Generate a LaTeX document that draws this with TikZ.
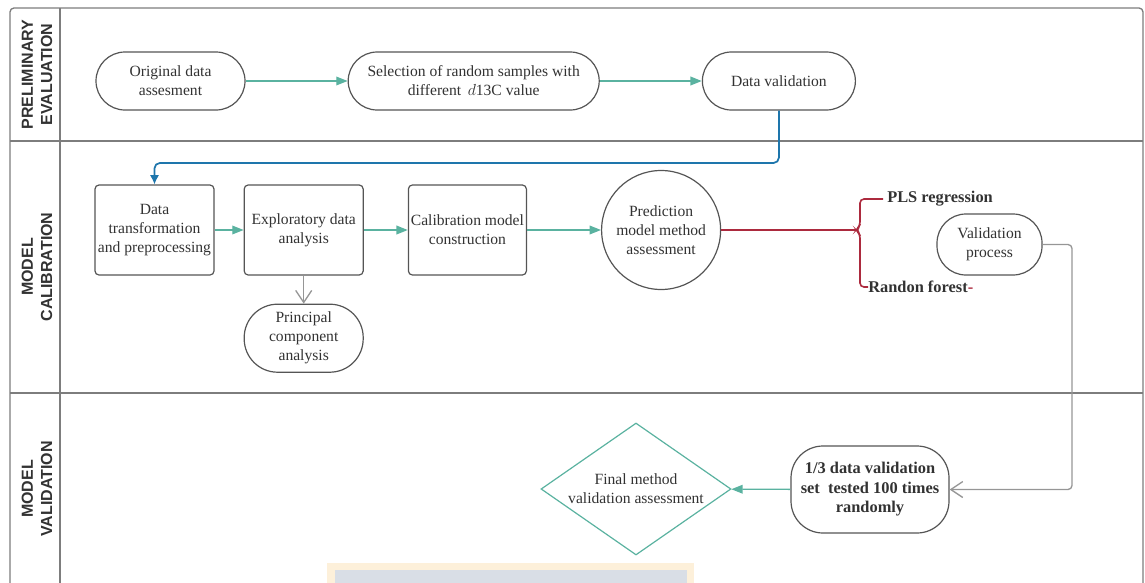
\documentclass[tikz,border=0pt]{standalone}
\usepackage{fontspec}
\setmainfont{Liberation Serif}
\newfontfamily\lanefont{Liberation Sans}
\usepackage{xcolor}
\usetikzlibrary{shapes.geometric,arrows.meta,positioning}

\definecolor{textgrey}{RGB}{50,50,50}
\definecolor{outline}{RGB}{85,85,85}
\definecolor{framegrey}{RGB}{125,125,125}
\definecolor{tealarrow}{RGB}{90,178,160}
\definecolor{bluearrow}{RGB}{30,118,172}
\definecolor{bracered}{RGB}{172,42,62}
\definecolor{linkgrey}{RGB}{150,150,150}
\definecolor{wmcream}{RGB}{253,240,218}
\definecolor{wmgrey}{RGB}{217,222,230}

\begin{document}
\begin{tikzpicture}[x=0.75pt, y=-0.75pt,
    txt/.style={font=\fontsize{11.7}{14.25}\selectfont, text=textgrey, align=center, inner sep=1pt},
    boldtxt/.style={font=\fontsize{12.3}{14.6}\selectfont\bfseries, text=textgrey, align=center, inner sep=1pt},
    stadium/.style={txt, rectangle, draw=outline, line width=0.9pt, rounded corners=21.75pt, minimum height=43.5pt},
    stepbox/.style={txt, rectangle, draw=outline, line width=0.9pt, rounded corners=3pt, minimum width=89.25pt, minimum height=67.5pt},
    lanelabel/.style={font=\lanefont\fontsize{12}{14.5}\selectfont\bfseries, text=textgrey, align=center, rotate=90},
    flow/.style={draw=tealarrow, line width=1pt, -{Triangle[length=8.5pt,width=6.5pt]}},
    openflow/.style={draw=linkgrey, line width=1pt, -{Straight Barb[length=9pt,width=12pt]}},
    laneline/.style={draw=framegrey, line width=1pt}]

    \useasboundingbox (0,0) rectangle (1145,582);

    % swimlane frame
    \draw[laneline, rounded corners=3pt] (10,583) |- (1143,8) -- (1143,583);
    \draw[laneline] (60,8) -- (60,583);
    \draw[laneline] (10,141) -- (1143,141);
    \draw[laneline] (10,393) -- (1143,393);
    \node[lanelabel] (lanepre) at (37,74.5) {PRELIMINARY\\EVALUATION};
    \node[lanelabel] (lanecal) at (37,267) {MODEL\\CALIBRATION};
    \node[lanelabel] (laneval) at (37,489) {MODEL\\VALIDATION};

    % preliminary evaluation
    \node[stadium, minimum width=111.75pt] (orig) at (170.5,81) {Original data\\assesment};
    \node[stadium, minimum width=188.25pt, right=76.5pt of orig] (select) {Selection of random samples with\\different \,$d$13C value};
    \node[stadium, minimum width=114.75pt, right=76.5pt of select] (dataval) {Data validation};

    \draw[flow] (orig) -- (select);
    \draw[flow] (select) -- (dataval);

    % model calibration
    \node[stepbox] (transform) at (154.5,230) {Data\\transformation\\and preprocessing};
    \node[stepbox, right=21.75pt of transform] (explore) {Exploratory data\\analysis};
    \node[stepbox, minimum width=88.5pt, right=33pt of explore] (calib) {Calibration model\\construction};
    \node[txt, circle, draw=outline, line width=0.9pt, minimum size=89.25pt, right=55.5pt of calib] (predict) {Prediction\\model method\\assessment};
    \node[stadium, minimum width=89.25pt, minimum height=51pt, rounded corners=25pt, below=21pt of explore] (pca) {Principal\\component\\analysis};
    \node[boldtxt, anchor=west, inner sep=3pt] (pls) at (883,199) {PLS regression};
    \node[boldtxt, anchor=west, inner sep=0pt] (forest) at (868,287) {Randon forest{\color{bracered}-}};
    \node[stadium, minimum width=78.75pt, minimum height=45.75pt] (valproc) at (989.5,244.5) {Validation\\process};
    \coordinate (bluebend) at (0,163);
    \coordinate (tip) at (856,230);

    \draw[draw=bluearrow, line width=1.3pt, rounded corners=4pt, -{Latex[length=7pt,width=7pt]}] (dataval.south) |- (transform.north |- bluebend) -- (transform.north);
    \draw[flow] (transform) -- (explore);
    \draw[flow] (explore) -- (calib);
    \draw[flow] (calib) -- (predict);
    \draw[openflow] (explore) -- (pca);
    \draw[draw=bracered, line width=1.2pt] (predict.east) -- (tip);
    \draw[draw=bracered, line width=1.2pt, rounded corners=3pt] (pls.west) -| (860,226) -- (tip) -- (860,234) |- (forest.west);

    % model validation
    \node[boldtxt, rectangle, draw=outline, line width=0.9pt, rounded corners=24pt, minimum width=118.5pt, minimum height=65.25pt] (tested) at (870,489.5) {1/3 data validation\\set\ \ tested 100 times\\randomly};
    \node[txt, diamond, draw=tealarrow, line width=0.9pt, aspect=1.44, inner sep=0pt, minimum width=142.5pt, minimum height=99pt] (final) at (636,489) {Final method\\validation assessment};
    \coordinate (greybend) at (1072,0);

    \draw[openflow, rounded corners=3pt] (valproc.east) -| (greybend |- tested.east) -- (tested.east);
    \draw[flow] (tested) -- (final);

    \fill[wmcream] (327,563) rectangle (694,583);
    \fill[wmgrey] (335,570) rectangle (687,583);
\end{tikzpicture}
\end{document}
